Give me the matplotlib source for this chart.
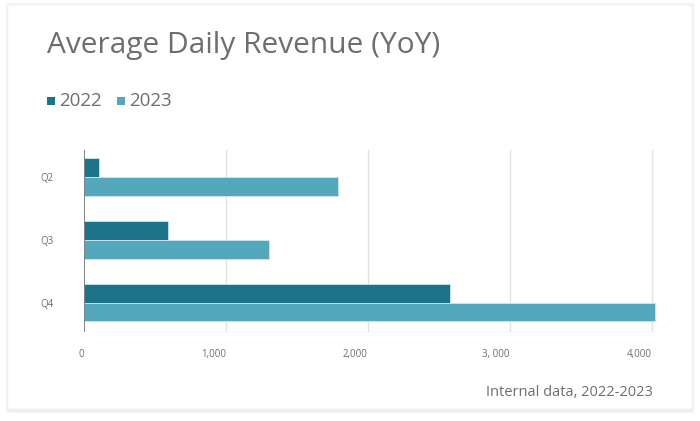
import numpy as np
import matplotlib.pyplot as plt
from matplotlib.patches import FancyBboxPatch, Rectangle

# Data
quarters = ["Q2", "Q3", "Q4"]
rev_2022 = [105, 595, 2575]
rev_2023 = [1790, 1305, 4020]
x_ticks = [0, 1000, 2000, 3000, 4000]
x_tick_labels = ["0", "1,000", "2,000", "3, 000", "4,000"]

c_2022 = "#1b7489"
c_2023 = "#55a8bb"
text_grey = "#6e6e6e"

plt.rcParams["font.family"] = ["Open Sans", "DejaVu Sans"]

W, H = 700, 421
fig = plt.figure(figsize=(W / 100, H / 100), dpi=100)
fig.patch.set_facecolor("white")

# card with a soft shadow
for i, a in enumerate([0.015, 0.02, 0.03]):
    off = 3 - i
    fig.patches.append(FancyBboxPatch(
        ((8 - off) / W, 1 - (411 + off) / H), (684 + 2 * off) / W, (406 + 2 * off) / H,
        boxstyle="round,pad=0,rounding_size=0.004", transform=fig.transFigure,
        facecolor="black", edgecolor="none", alpha=a, zorder=0))
fig.patches.append(FancyBboxPatch(
    (8 / W, 1 - 409 / H), 684 / W, 404 / H,
    boxstyle="round,pad=0,rounding_size=0.004", transform=fig.transFigure,
    facecolor="white", edgecolor="#f2f2f2", linewidth=0.5, zorder=1))

ax = fig.add_axes([84 / W, 1 - 332 / H, 582 / W, 182 / H])
ax.set_zorder(2)
ax.patch.set_visible(False)

y = np.arange(len(quarters))
bh = 0.30
ax.barh(y - bh / 2, rev_2022, height=bh, color=c_2022, edgecolor="#cfe6ec",
        linewidth=0.6, label="2022", zorder=3)
ax.barh(y + bh / 2, rev_2023, height=bh, color=c_2023, edgecolor="#cfe6ec",
        linewidth=0.6, label="2023", zorder=3)

ax.set_xlim(0, 4100)
ax.set_ylim(2.47, -0.43)
for t in x_ticks[1:]:
    ax.axvline(t, color="#e2e2e2", linewidth=1, zorder=1)
ax.axvline(0, color="#707070", linewidth=1.2, zorder=4)

for s in ax.spines.values():
    s.set_visible(False)
ax.set_xticks(x_ticks)
ax.set_xticklabels(x_tick_labels, fontsize=7, color=text_grey, ha="right")
ax.set_yticks(y)
ax.set_yticklabels(quarters, fontsize=7, color=text_grey)
ax.tick_params(axis="both", length=0)
ax.tick_params(axis="x", pad=12)
ax.tick_params(axis="y", pad=22)

fig.text(47 / W, 1 - 46 / H, "Average Daily Revenue (YoY)", fontsize=21.5,
         color=text_grey, va="center", ha="left")

# legend
fig.patches.append(Rectangle((47 / W, 1 - 105 / H), 8 / W, 8 / H,
                             transform=fig.transFigure, facecolor=c_2022, zorder=3))
fig.text(59 / W, 1 - 101 / H, "2022", fontsize=13.5, color=text_grey, va="center")
fig.patches.append(Rectangle((117 / W, 1 - 105 / H), 8 / W, 8 / H,
                             transform=fig.transFigure, facecolor=c_2023, zorder=3))
fig.text(129 / W, 1 - 101 / H, "2023", fontsize=13.5, color=text_grey, va="center")

fig.text(653 / W, 1 - 393 / H, "Internal data, 2022-2023", fontsize=10.5,
         color=text_grey, ha="right", va="center")

fig.savefig("out.png", dpi=100)
